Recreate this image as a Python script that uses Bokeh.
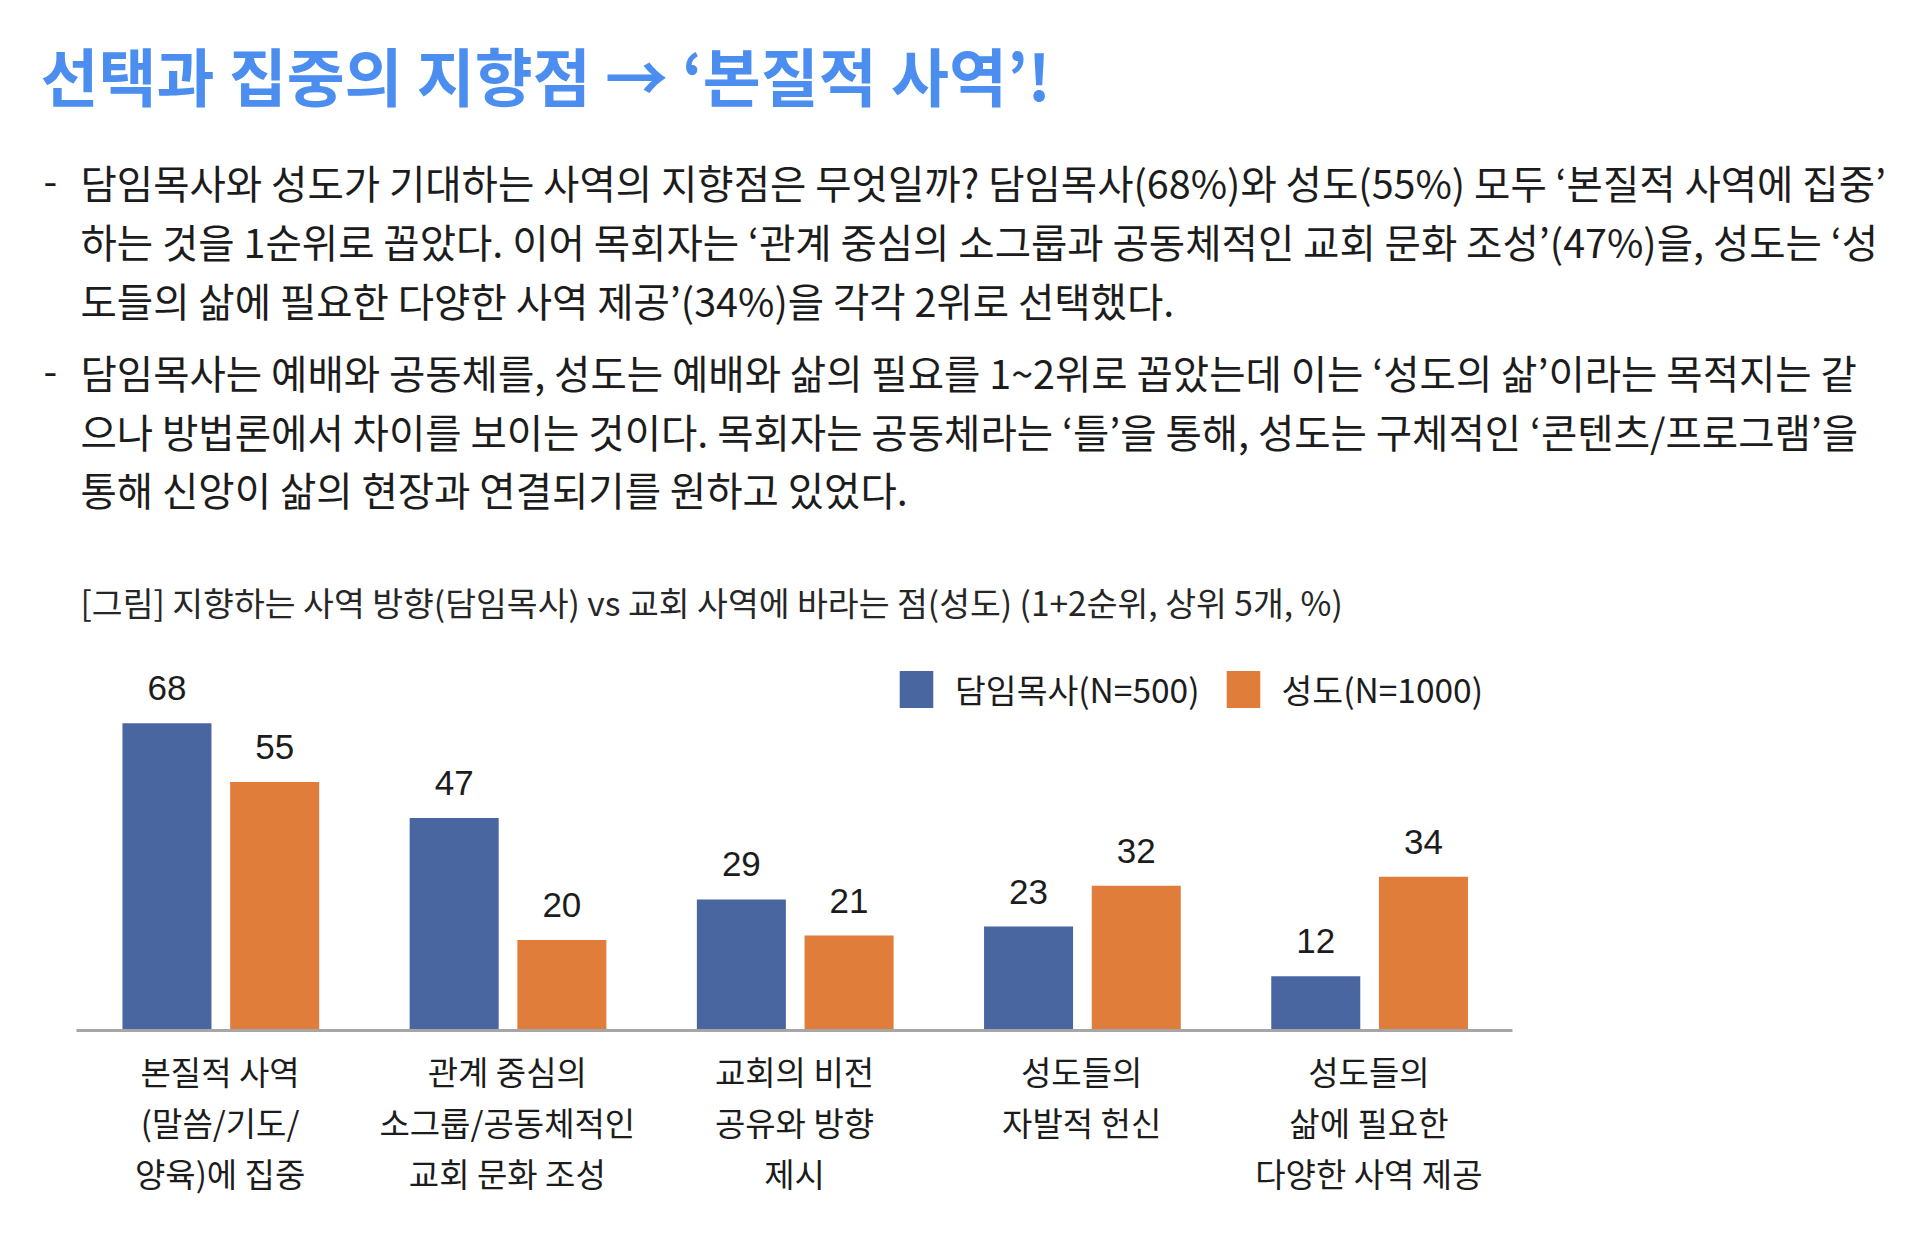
from bokeh.plotting import figure
from bokeh.models import ColumnDataSource, Range1d, Label, Legend, LegendItem
from bokeh.transform import dodge
from bokeh.core.properties import value
from bokeh.embed import file_html
from bokeh.resources import INLINE

# ---- data -------------------------------------------------------------
categories = [
    "본질적 사역\n(말씀/기도/\n양육)에 집중",
    "관계 중심의\n소그룹/공동체적인\n교회 문화 조성",
    "교회의 비전\n공유와 방향\n제시",
    "성도들의\n자발적 헌신",
    "성도들의\n삶에 필요한\n다양한 사역 제공",
]
pastor = [68, 47, 29, 23, 12]
member = [55, 20, 21, 32, 34]
series_names = ["담임목사(N=500)", "성도(N=1000)"]

title_text = "선택과 집중의 지향점 → ‘본질적 사역’!"
paragraphs = [
    [
        "담임목사와 성도가 기대하는 사역의 지향점은 무엇일까? 담임목사(68%)와 성도(55%) 모두 ‘본질적 사역에 집중’",
        "하는 것을 1순위로 꼽았다. 이어 목회자는 ‘관계 중심의 소그룹과 공동체적인 교회 문화 조성’(47%)을, 성도는 ‘성",
        "도들의 삶에 필요한 다양한 사역 제공’(34%)을 각각 2위로 선택했다.",
    ],
    [
        "담임목사는 예배와 공동체를, 성도는 예배와 삶의 필요를 1~2위로 꼽았는데 이는 ‘성도의 삶’이라는 목적지는 같",
        "으나 방법론에서 차이를 보이는 것이다. 목회자는 공동체라는 ‘틀’을 통해, 성도는 구체적인 ‘콘텐츠/프로그램’을",
        "통해 신앙이 삶의 현장과 연결되기를 원하고 있었다.",
    ],
]
chart_caption = "[그림] 지향하는 사역 방향(담임목사) vs 교회 사역에 바라는 점(성도) (1+2순위, 상위 5개, %)"

# ---- style ------------------------------------------------------------
W, H = 1920, 1244
KR = "Noto Sans CJK KR"
BLUE = "#4a66a1"
ORANGE = "#e07d3b"
TITLE_BLUE = "#4b8ef0"
INK = "#1c1c1c"

# category band = 287.2 px, first band centre at x=219.6 px, baseline at y=1030 px
band = 287.2
x0_px = 219.6
px_per_unit = 4.52
base_px = 1030

x_range = Range1d(-x0_px / band, (W - x0_px) / band)
y_range = Range1d(-(H - base_px) / px_per_unit, base_px / px_per_unit)

p = figure(width=W, height=H, x_range=x_range, y_range=y_range,
           output_backend="svg", toolbar_location=None,
           x_axis_type=None, y_axis_type=None, min_border=0,
           outline_line_color=None, background_fill_color="white",
           border_fill_color="white")
p.grid.visible = False

idx = list(range(len(categories)))
src = ColumnDataSource(dict(
    idx=idx,
    pastor=pastor,
    member=member,
    pastor_txt=[str(v) for v in pastor],
    member_txt=[str(v) for v in member],
))

bw = 0.31
off_a, off_b = -0.185, 0.19
r_a = p.vbar(x=dodge("idx", off_a), top="pastor", bottom=0, width=bw, source=src,
             fill_color=BLUE, line_color=None)
r_b = p.vbar(x=dodge("idx", off_b), top="member", bottom=0, width=bw, source=src,
             fill_color=ORANGE, line_color=None)

# baseline across the category bands
p.segment(x0=-0.5, y0=0, x1=len(categories) - 0.5, y1=0,
          line_color="#a6a6a6", line_width=3)

# value labels above bars
for col, off in (("pastor", off_a), ("member", off_b)):
    p.text(x=dodge("idx", off), y=col, text=col + "_txt", source=src,
           text_font=value("Liberation Sans"), text_font_size="35px",
           text_color=INK, text_align="center", text_baseline="alphabetic",
           y_offset=-35)

# category labels, one row per line
split = [c.split("\n") for c in categories]
nlines = max(len(s) for s in split)
for j in range(nlines):
    rows = [s[j] if j < len(s) else "" for s in split]
    p.text(x=idx, y=[0] * len(idx), text=rows,
           text_font=value(KR), text_font_size="33px", text_color=INK,
           text_align="center", text_baseline="middle",
           y_offset=40 + 51 * j)

# legend
legend = Legend(items=[LegendItem(label=series_names[0], renderers=[r_a]),
                       LegendItem(label=series_names[1], renderers=[r_b])],
                orientation="horizontal", location=(895, H - 713),
                glyph_width=42, glyph_height=46, label_standoff=18, spacing=22,
                label_text_font=KR, label_text_font_size="33.5px",
                label_text_color=INK, label_height=46,
                padding=0, margin=0, border_line_color=None,
                background_fill_alpha=0)
p.add_layout(legend)


def add_label(text, x, y_center, size, color=INK, style="normal"):
    p.add_layout(Label(x=x, y=H - y_center, x_units="screen", y_units="screen",
                       text=text, text_font=KR, text_font_size=size,
                       text_font_style=style, text_color=color,
                       text_baseline="middle", text_align="left"))


add_label(title_text, 40, 73, "63px", TITLE_BLUE, "bold")

line_y = [[181, 239.5, 298.5], [371, 429.5, 488]]
for para, ys in zip(paragraphs, line_y):
    add_label("-", 43, ys[0], "39.5px")
    for line, y in zip(para, ys):
        add_label(line, 80, y, "39.5px")

add_label(chart_caption, 80, 601, "33.5px", "#262626")

open("out.html", "w").write(file_html(p, INLINE))
